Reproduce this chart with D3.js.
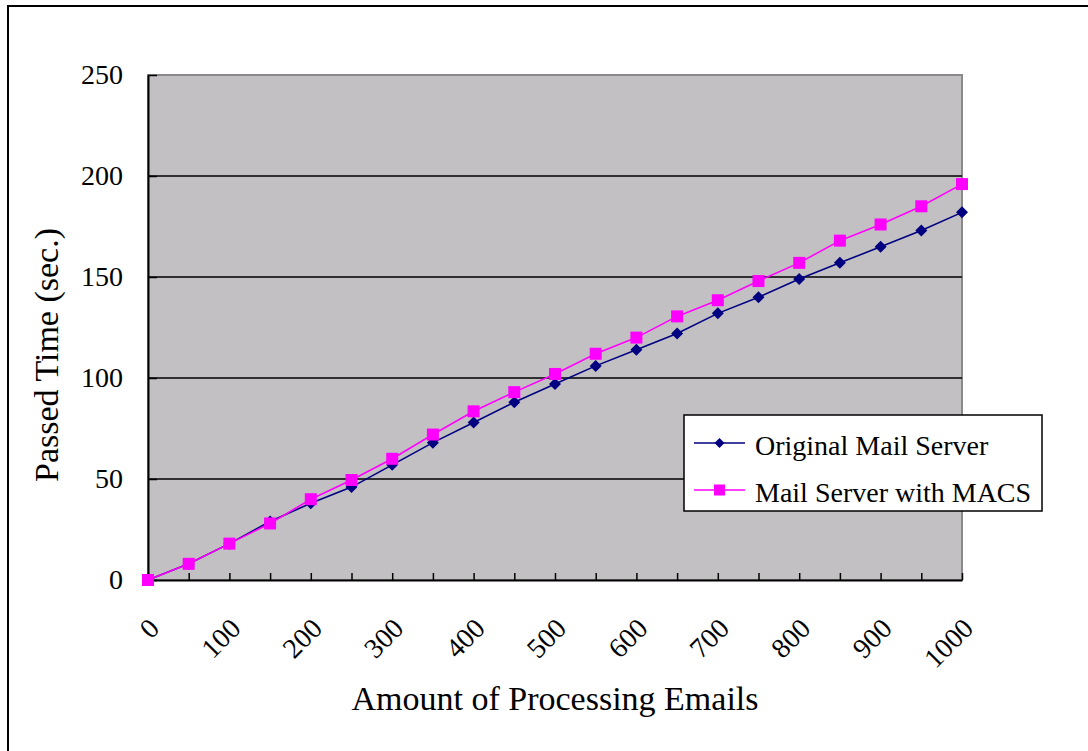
<!DOCTYPE html>
<html><head><meta charset="utf-8">
<script src="https://cdn.jsdelivr.net/npm/d3@7"></script>
<style>body{margin:0;background:#fff;} svg{display:block;}</style>
</head><body>
<svg id="c" width="1088" height="751"></svg>
<script>
const emails = [0,50,100,150,200,250,300,350,400,450,500,550,600,650,700,750,800,850,900,950,1000];
const original = [0,8,18,29,38,46,57,68,78,88,97,106,114,122,132,140,149,157,165,173,182];
const macs = [0,8,18,28,40,49.5,60,72,83.5,93,102,112,120,130.5,138.5,148,157,168,176,185,196];
const xLabels = [0,100,200,300,400,500,600,700,800,900,1000];
const yTicks = [0,50,100,150,200,250];
const seriesNames = ["Original Mail Server","Mail Server with MACS"];

const svg = d3.select("#c");
const font = "'Liberation Serif', 'DejaVu Serif', serif";
const L=148, R=962, T=75, B=580;
svg.append("rect").attr("x",8).attr("y",6).attr("width",1200).attr("height",1000)
  .attr("fill","none").attr("stroke","#000").attr("stroke-width",2);

const x = d3.scaleLinear().domain([0,1000]).range([L,R]);
const y = d3.scaleLinear().domain([0,250]).range([B,T]);

svg.append("rect").attr("x",L).attr("y",T).attr("width",R-L).attr("height",B-T)
  .attr("fill","#c3c0c3").attr("stroke","#8a8a8a").attr("stroke-width",2);

// gridlines
svg.append("g").selectAll("line").data(yTicks.filter(d=>d>0&&d<250)).join("line")
  .attr("x1",L).attr("x2",R).attr("y1",d=>y(d)).attr("y2",d=>y(d))
  .attr("stroke","#000").attr("stroke-width",1.5);

// y axis
const ya = svg.append("g").attr("transform",`translate(${L},0)`)
  .call(d3.axisLeft(y).tickValues(yTicks).tickSizeInner(-9).tickSizeOuter(0).tickPadding(25));
ya.select(".domain").attr("stroke","#000").attr("stroke-width",2);
ya.selectAll(".tick line").attr("stroke","#000").attr("stroke-width",1.5);
ya.selectAll("text").attr("font-family",font).attr("font-size",28).attr("fill","#000");

// x axis
const xa = svg.append("g").attr("transform",`translate(0,${B})`)
  .call(d3.axisBottom(x).tickValues(emails).tickSizeInner(-7).tickSizeOuter(0).tickFormat(""));
xa.select(".domain").attr("stroke","#000").attr("stroke-width",2);
xa.selectAll(".tick line").attr("stroke","#000").attr("stroke-width",1.5);
svg.append("g").selectAll("text").data(xLabels).join("text")
  .attr("transform",d=>`translate(${x(d)+13},${B+50}) rotate(-45)`)
  .attr("text-anchor","end")
  .attr("font-family",font).attr("font-size",28).attr("fill","#000").text(d=>d);

// titles
svg.append("text").attr("x",555).attr("y",710).attr("text-anchor","middle")
  .attr("font-family",font).attr("font-size",34).attr("fill","#000").text("Amount of Processing Emails");
svg.append("text").attr("transform","translate(58,355) rotate(-90)").attr("text-anchor","middle")
  .attr("font-family",font).attr("font-size",34).attr("fill","#000").text("Passed Time (sec.)");

// lines
const line = d3.line().x((d,i)=>x(emails[i])).y(d=>y(d));
const colors = ["#000080","#ff00ff"];
[original, macs].forEach((s,k)=>{
  svg.append("path").datum(s).attr("d",line).attr("fill","none")
    .attr("stroke",colors[k]).attr("stroke-width",1.6);
});
svg.append("g").selectAll("path").data(original).join("path")
  .attr("transform",(d,i)=>`translate(${x(emails[i])},${y(d)}) rotate(45)`)
  .attr("d",d3.symbol().type(d3.symbolSquare).size(72)).attr("fill","#000080");
svg.append("g").selectAll("rect").data(macs).join("rect")
  .attr("x",(d,i)=>x(emails[i])-6).attr("y",d=>y(d)-6).attr("width",12).attr("height",12)
  .attr("fill","#ff00ff");

// legend
const lg = svg.append("g");
lg.append("rect").attr("x",684).attr("y",415).attr("width",358).attr("height",96)
  .attr("fill","#fff").attr("stroke","#000").attr("stroke-width",1.5);
seriesNames.forEach((n,k)=>{
  const yy = 443 + k*47;
  lg.append("line").attr("x1",694).attr("x2",745).attr("y1",yy).attr("y2",yy)
    .attr("stroke",colors[k]).attr("stroke-width",1.6);
  if(k===0) lg.append("path").attr("transform",`translate(719.5,${yy}) rotate(45)`)
    .attr("d",d3.symbol().type(d3.symbolSquare).size(50)).attr("fill",colors[k]);
  else lg.append("rect").attr("x",714).attr("y",yy-5.5).attr("width",11).attr("height",11).attr("fill",colors[k]);
  lg.append("text").attr("x",755).attr("y",yy+12)
    .attr("font-family",font).attr("font-size",28).attr("fill","#000").text(n);
});
</script>
</body></html>
